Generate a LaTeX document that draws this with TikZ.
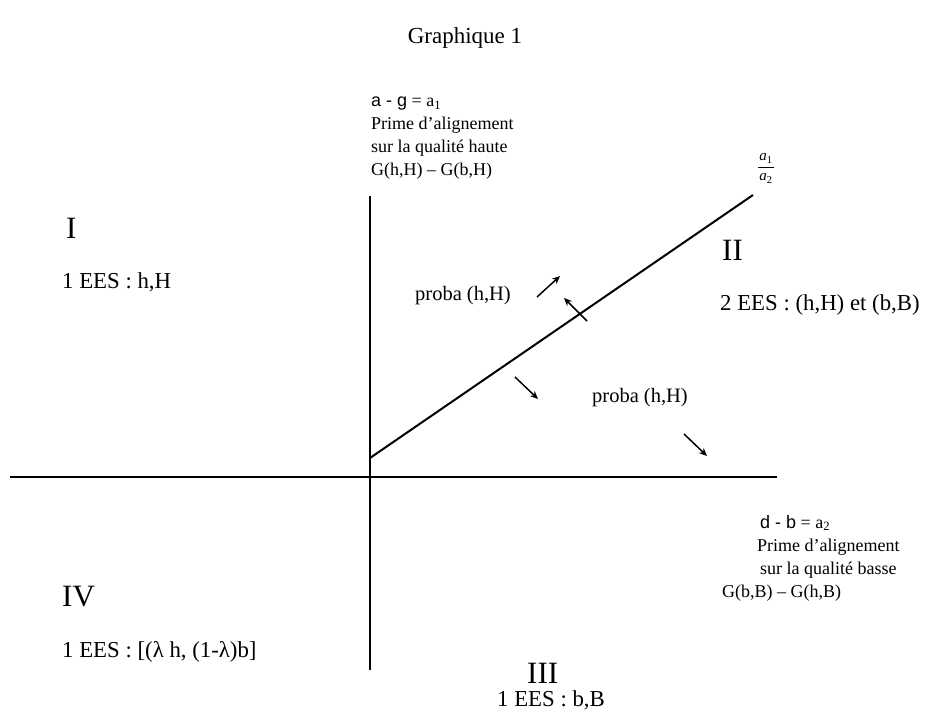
\documentclass[tikz,border=0pt]{standalone}
\usepackage{fontspec}
\setmainfont{Liberation Serif}
\newfontfamily\sansf{Liberation Sans}
\usetikzlibrary{arrows.meta}
\begin{document}
\begin{tikzpicture}[x=1pt,y=-1pt,
  txt/.style={font=\fontsize{20.5}{23}\selectfont, inner sep=0pt},
  lab/.style={font=\fontsize{18}{21}\selectfont, inner sep=0pt, anchor=base west},
  ees/.style={font=\fontsize{22.8}{26}\selectfont, inner sep=0pt, anchor=west},
  ttl/.style={font=\fontsize{23}{27}\selectfont, inner sep=0pt},
  roman/.style={font=\fontsize{31}{34}\selectfont, inner sep=0pt, anchor=west},
  frc/.style={font=\fontsize{15}{17}\selectfont, inner sep=0pt, anchor=base},
  axis/.style={line width=2pt},
  arr/.style={line width=1.5pt, -{Stealth[length=8pt,width=7pt]}}]
\useasboundingbox (0,0) rectangle (929,711);
% axes and diagonal
\coordinate (hl) at (10,477);
\coordinate (hr) at (777,477);
\coordinate (vt) at (370,196);
\coordinate (vb) at (370,670);
\coordinate (d0) at (370,458);
\coordinate (d1) at (753,195);
\draw[axis] (hl) -- (hr);
\draw[axis] (vt) -- (vb);
\draw[axis] (d0) -- (d1);
% arrows
\coordinate (a1s) at (537,297); \coordinate (a1e) at (560,276);
\coordinate (a2s) at (587,321); \coordinate (a2e) at (564,298);
\coordinate (a3s) at (515,377); \coordinate (a3e) at (538,399);
\coordinate (a4s) at (684,434); \coordinate (a4e) at (707,456);
\draw[arr] (a1s) -- (a1e);
\draw[arr] (a2s) -- (a2e);
\draw[arr] (a3s) -- (a3e);
\draw[arr] (a4s) -- (a4e);
% title
\node[ttl] (title) at (465,38) {Graphique 1};
% top label
\node[lab] (t1) at (371,107) {{\sansf a - g} = a\textsubscript{1}};
\node[lab] (t2) at (371,130) {Prime d’alignement};
\node[lab] (t3) at (371,153) {sur la qualité haute};
\node[lab] (t4) at (371,176) {G(h,H) – G(b,H)};
% bottom right label
\node[lab] (b1) at (760,528) {{\sansf d - b} = a\textsubscript{2}};
\node[lab] (b2) at (757,551) {Prime d’alignement};
\node[lab] (b3) at (760,574) {sur la qualité basse};
\node[lab] (b4) at (722,597) {G(b,B) – G(h,B)};
% fraction
\node[frc] (fn) at (766,161) {\textit{a}\textsubscript{1}};
\node[frc] (fd) at (766,181) {\textit{a}\textsubscript{2}};
\draw[line width=0.6pt] ([xshift=-1pt,yshift=-3.5pt]fn.south west) -- ([xshift=1pt,yshift=-3.5pt]fn.south east);
% quadrant labels
\node[roman] (q1) at (66,228) {I};
\node[ees] (q1t) at (62,282) {1 EES : h,H};
\node[roman] (q2) at (722,250) {II};
\node[ees] (q2t) at (720,305) {2 EES : (h,H) et (b,B)};
\node[roman] (q3) at (527,673) {III};
\node[ees] (q3t) at (497,700) {1 EES : b,B};
\node[roman] (q4) at (62,597) {IV};
\node[ees] (q4t) at (62,652) {1 EES : [(λ h, (1-λ)b]};
% proba labels
\node[txt] (p1) at (463,296) {proba (h,H)};
\node[txt] (p2) at (640,398) {proba (h,H)};
\end{tikzpicture}
\end{document}
